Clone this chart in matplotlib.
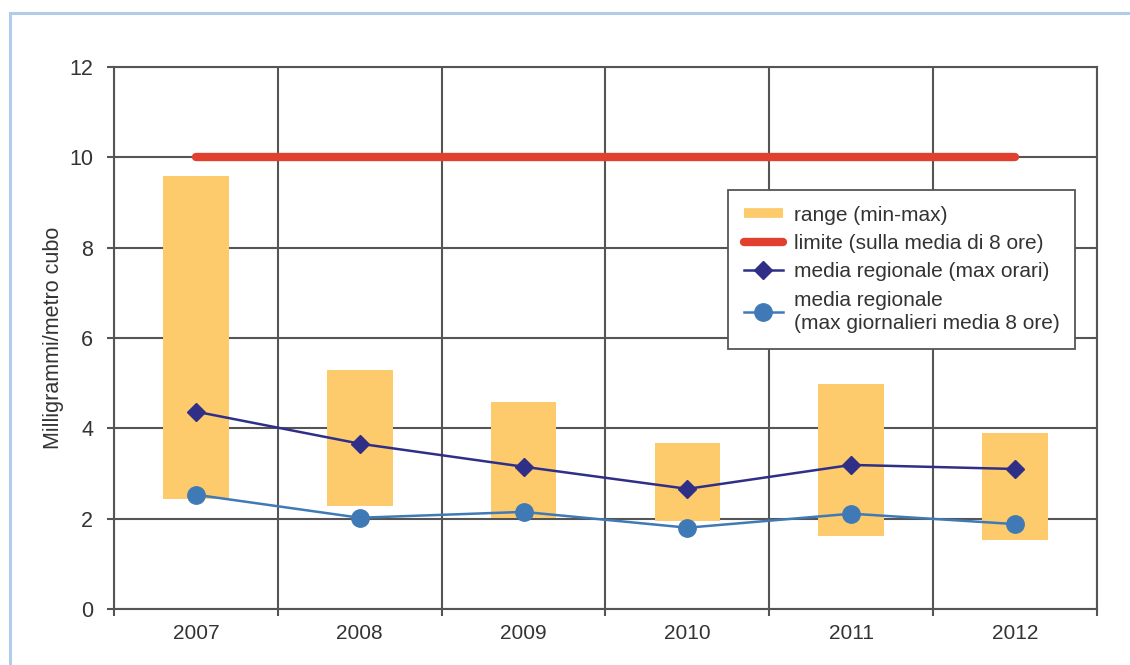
import numpy as np
import matplotlib.pyplot as plt
from matplotlib.lines import Line2D
from matplotlib.patches import Rectangle

plt.rcParams['font.family'] = ['Liberation Sans', 'DejaVu Sans']

years = ["2007", "2008", "2009", "2010", "2011", "2012"]
range_min = [2.44, 2.28, 2.02, 1.95, 1.62, 1.53]
range_max = [9.58, 5.30, 4.59, 3.68, 4.99, 3.90]
media_max_orari = [4.37, 3.66, 3.15, 2.66, 3.19, 3.10]
media_max_giorn_8h = [2.53, 2.02, 2.15, 1.80, 2.11, 1.88]
limite = [10, 10, 10, 10, 10, 10]

C_RANGE = "#fdca6c"
C_LIMIT = "#e2402f"
C_ORARI = "#2f2f88"
C_GIORN = "#3f7ab6"
C_GRID = "#555555"
C_TEXT = "#333333"

fig = plt.figure(figsize=(11.3, 6.65), dpi=100)
ax = fig.add_axes([114 / 1130, 56 / 665, 983 / 1130, 542 / 665])

# light blue frame round the figure (cut off at right/bottom as in source)
fig.patches.append(Rectangle((10 / 1130, -0.05), 1.2, (665 - 13) / 665 + 0.05,
                             transform=fig.transFigure, fill=False,
                             edgecolor="#b0cce8", lw=2.2, zorder=0))

x = np.arange(len(years))
heights = np.array(range_max) - np.array(range_min)
ax.bar(x, heights, bottom=range_min, width=0.4, color=C_RANGE, zorder=2)
ax.plot(x, limite, color=C_LIMIT, lw=6, solid_capstyle="round", zorder=3)
ax.plot(x, media_max_orari, color=C_ORARI, lw=1.8, marker="D", ms=9,
        zorder=4)
ax.plot(x, media_max_giorn_8h, color=C_GIORN, lw=1.8, marker="o", ms=12.5,
        zorder=4)

ax.set_xlim(-0.5, len(years) - 0.5)
ax.set_ylim(0, 12)
ax.set_yticks(np.arange(0, 13, 2))
ax.set_xticks(x)
ax.set_xticklabels(years)
ax.set_xticks(np.arange(-0.5, len(years), 1.0), minor=True)
ax.tick_params(axis="x", which="major", length=0, pad=11, labelsize=15,
               labelcolor=C_TEXT)
ax.tick_params(axis="x", which="minor", length=5, color=C_GRID, width=1.5)
ax.tick_params(axis="y", length=5, color=C_GRID, width=1.5, pad=10,
               labelsize=15.5, labelcolor=C_TEXT)
ax.grid(axis="y", which="major", color=C_GRID, lw=1.5, zorder=1)
ax.grid(axis="x", which="minor", color=C_GRID, lw=1.5, zorder=1)
ax.set_axisbelow(True)
for s in ax.spines.values():
    s.set_color(C_GRID)
    s.set_linewidth(1.5)

ax.set_ylabel("Milligrammi/metro cubo", fontsize=15.5, color=C_TEXT,
              labelpad=4)

handles = [
    Line2D([], [], color=C_RANGE, lw=7, solid_capstyle="butt"),
    Line2D([], [], color=C_LIMIT, lw=6, solid_capstyle="round"),
    Line2D([], [], color=C_ORARI, lw=1.8, marker="D", ms=9),
    Line2D([], [], color=C_GIORN, lw=1.8, marker="o", ms=12.5),
]
labels = [
    "range (min-max)",
    "limite (sulla media di 8 ore)",
    "media regionale (max orari)",
    "media regionale\n(max giornalieri media 8 ore)",
]
leg = ax.legend(handles, labels, loc="upper left",
                bbox_to_anchor=((728 - 114) / 983, (609 - 190) / 542),
                borderaxespad=0, fontsize=15, frameon=True, fancybox=False,
                edgecolor=C_GRID, framealpha=1, borderpad=0.75,
                labelspacing=0.45, handlelength=1.9, handletextpad=0.5)
leg.get_frame().set_linewidth(1.3)
for t in leg.get_texts():
    t.set_color(C_TEXT)
    t.set_linespacing(1.3)

fig.savefig("out.png", dpi=100)
